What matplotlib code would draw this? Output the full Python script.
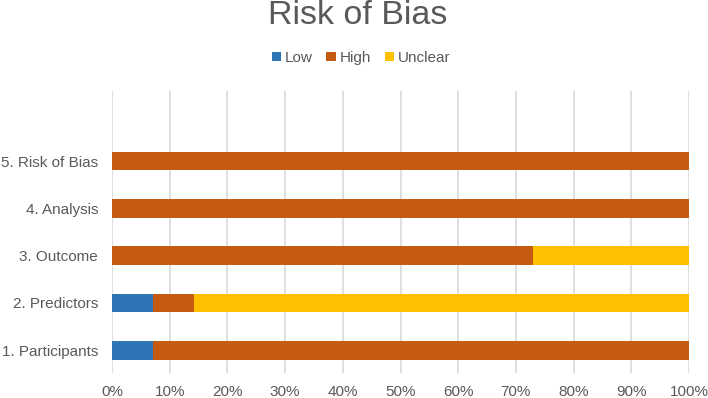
import matplotlib
matplotlib.use("Agg")
import matplotlib.pyplot as plt
from matplotlib.ticker import PercentFormatter

categories = ["1. Participants", "2. Predictors", "3. Outcome", "4. Analysis", "5. Risk of Bias"]
low = [7.1, 7.1, 0, 0, 0]
high = [92.9, 7.1, 73.0, 100, 100]
unclear = [0, 85.8, 27.0, 0, 0]
series_names = ["Low", "High", "Unclear"]
colors = ["#2E75B6", "#C55A11", "#FFC000"]

plt.rcParams['font.family'] = ['Liberation Sans', 'DejaVu Sans']
fig = plt.figure(figsize=(7.08, 3.98), dpi=100)
ax = fig.add_axes([112/708, 1-373/398, (689-112)/708, (373-91)/398])

y = list(range(len(categories)))
left = [0]*len(categories)
for name, vals, c in zip(series_names, [low, high, unclear], colors):
    ax.barh(y, vals, left=left, height=0.40, color=c, label=name, zorder=3)
    left = [l + v for l, v in zip(left, vals)]

ax.set_xlim(0, 100)
ax.set_ylim(-0.48, 5.48)
ax.set_xticks(range(0, 101, 10))
ax.xaxis.set_major_formatter(PercentFormatter(decimals=0))
ax.set_yticks(y)
ax.set_yticklabels(categories)
ax.grid(axis='x', color='#D9D9D9', linewidth=1.2, zorder=0)
for s in ax.spines.values():
    s.set_visible(False)
ax.tick_params(axis='both', length=0, labelsize=11, colors='#595959')
ax.tick_params(axis='x', pad=9)
ax.tick_params(axis='y', pad=10)

fig.text(358/708, 1-16/398, "Risk of Bias", ha='center', va='center', fontsize=24.5, color='#595959')
handles, labels = ax.get_legend_handles_labels()
fig.legend(handles, labels, loc='center', bbox_to_anchor=(361/708, 1-58/398), ncol=3, frameon=False,
           fontsize=11, labelcolor='#595959', handlelength=0.6, handleheight=0.6,
           handletextpad=0.25, columnspacing=0.9)

fig.savefig("out.png", dpi=100)
